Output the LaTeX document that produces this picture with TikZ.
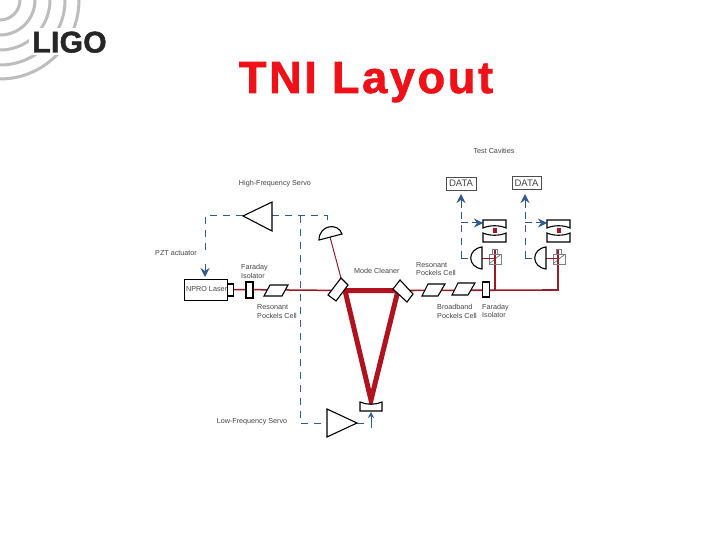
\documentclass[tikz,border=0pt]{standalone}
\usepackage{fontspec}
\setmainfont{Liberation Sans}
\usetikzlibrary{arrows.meta,calc}
\definecolor{beam}{HTML}{B0121F}
\definecolor{thin}{HTML}{9A1B28}
\definecolor{servo}{HTML}{2F5A94}
\definecolor{txt}{HTML}{444444}
\definecolor{arcg}{HTML}{BDBDBD}
\definecolor{titlered}{HTML}{F01018}
\tikzset{
  lab/.style={font=\fontsize{7.2}{8.6}\selectfont,text=txt,inner sep=0pt,align=left},
  part/.style={draw=black,line width=1.1pt,fill=white},
  boxn/.style={draw=black,line width=1.1pt,fill=white,inner sep=0pt},
  thinb/.style={draw=thin,line width=1.5pt},
  fineb/.style={draw=thin,line width=1pt},
  ring/.style={draw=beam,line width=5pt,line join=miter},
  sig/.style={draw=servo,line width=1pt,dash pattern=on 7pt off 6pt},
  sigend/.style={draw=servo,line width=1pt,-{Stealth[length=9pt,width=9pt,inset=3pt]}},
  arc1/.style={draw=arcg,line width=3pt}
}
\begin{document}
\begin{tikzpicture}[x=1pt,y=-1pt]
\useasboundingbox (0,0) rectangle (720,540);
\fill[white] (0,0) rectangle (720,540);
% logo
\foreach \r in {20,35,50,65,79} {\draw[arc1] (\r,0) arc[start angle=0,end angle=90,radius=\r pt,y radius=-\r pt];}
\fill[white] (29,28) rectangle (110,55);
\node[font=\bfseries\fontsize{30}{30}\selectfont,inner sep=0pt,text=black!85,anchor=base] (logo) at (69.5,52.5) {\addfontfeature{FakeBold=1.5,LetterSpace=1}LIGO};
\node[font=\bfseries\fontsize{45}{45}\selectfont,text=titlered,inner sep=0pt,anchor=base] (title) at (366,93) {\addfontfeature{FakeBold=1.5,LetterSpace=6}TNI Layout};
% coordinates
\coordinate (hfapex) at (243,216);\coordinate (hfb1) at (272,202);\coordinate (hfb2) at (272,231);\coordinate (hfbm) at (272,216);
\coordinate (lfapex) at (357,423);\coordinate (lfb1) at (327,409);\coordinate (lfb2) at (327,437);\coordinate (lfbm) at (327,423);
\coordinate (m1) at (345,290.5);\coordinate (m2) at (398,290.5);\coordinate (m3) at (371,400);
% beams
\draw[thinb] (233,289.5) -- (m1);
\draw[ring] (m1) -- (m2) -- (m3) -- cycle;
\draw[thinb,line width=1.6pt] (m2) -- (558,290) -- (558,250);
\draw[thinb,line width=1.6pt] (495,290) -- (495,250);
\draw[fineb] (330,237) -- (341,278);
% servo lines
\draw[sig] (hfbm) -- (327,216) -- (327,226);
\draw[sig] (300,216) -- (300,423) -- (lfbm);
\draw[sig] (hfapex) -- (205,216) -- (205,252);
\draw[sigend] (205,264) -- (205,277);
\draw[sig] (lfapex) -- (364,423);
\draw[servo,line width=1pt,-{Stealth[length=6pt,width=6pt]}] (371,428) -- (371,412);
% amps
\draw[part] (hfapex) -- (hfb1) -- (hfb2) -- cycle;
\draw[part] (lfapex) -- (lfb1) -- (lfb2) -- cycle;
% laser
\node[boxn,minimum width=43pt,minimum height=21pt,anchor=north west] (npro) at (184,279) {};
\node[lab,anchor=west] (nprol) at (186,289.5) {NPRO Laser};
\node[boxn,minimum width=6pt,minimum height=12pt,anchor=west] (head) at (227,290) {};
\node[boxn,minimum width=7pt,minimum height=16pt] (fi1) at (249.5,290) {};
\draw[part] (264,296) -- (270,285) -- (288,285) -- (282,296) -- cycle;
\draw[part] (328,295) -- (341,278) -- (348,285) -- (336,301) -- cycle;
\draw[part] (393,289) -- (400,280) -- (413,294) -- (407,302) -- cycle;
\draw[part] (422,296) -- (428,284) -- (445,284) -- (438,296) -- cycle;
\draw[part] (452,295) -- (458,283) -- (475,283) -- (468,295) -- cycle;
\node[boxn,minimum width=7.5pt,minimum height=15pt] (fi2) at (486,289.5) {};
% curved mirrors and diode
\draw[part] (360,402) .. controls (367,405) and (375,405) .. (382,402) -- (382,411) -- (360,411) -- cycle;
\draw[part] (319,240) .. controls (319,225) and (338,222) .. (342,234) -- cycle;
\foreach \dx/\nm in {0/a,64/b} {
  \begin{scope}[xshift=\dx pt]
  \draw[sig] (461,258) -- (461,206);
  \draw[sigend] (461,208) -- (461,194);
  \draw[sig] (461,258) -- (472,258);
  \draw[sig] (461,223) -- (474,223);
  \draw[sigend] (472,223) -- (483,223);
  \draw[part] (483,220) -- (506,220) -- (506,228) .. controls (500,225) and (489,225) .. (483,228) -- cycle;
  \draw[part] (483,233) .. controls (489,236) and (500,236) .. (506,233) -- (506,242) -- (483,242) -- cycle;
  \fill[beam] (492.7,228) rectangle (497.3,232.6);
  \draw[draw=gray,line width=0.8pt] (489,254) rectangle (501,264);
  \draw[draw=gray,line width=0.8pt] (492.5,249.5) rectangle (497.5,254);
  \draw[draw=black!70,line width=0.5pt] (489.5,263.5) -- (500.5,254.5);
  \draw[fineb] (482,258) -- (495,258);
  \draw[part] (482,247) .. controls (467,249) and (467,267) .. (482,269) -- cycle;
  \end{scope}
}
\node[draw=black!70,line width=0.8pt,minimum width=30pt,minimum height=13pt,inner sep=0pt,font=\fontsize{9.5}{9.5}\selectfont,text=txt] (data1) at (461,183.5) {DATA};
\node[draw=black!70,line width=0.8pt,minimum width=29pt,minimum height=13pt,inner sep=0pt,font=\fontsize{9.5}{9.5}\selectfont,text=txt] (data2) at (526.5,183) {DATA};
% labels
\node[lab] (l1) at (275,184) {High-Frequency Servo};
\node[lab,anchor=west] (l2) at (155,253.5) {PZT actuator};
\node[lab,anchor=west] (l3) at (241,271.5) {Faraday\\Isolator};
\node[lab,anchor=west] (l4) at (257,311.5) {Resonant\\Pockels Cell};
\node[lab,anchor=west] (l5) at (354,271) {Mode Cleaner};
\node[lab,anchor=west] (l6) at (416,269) {Resonant\\Pockels Cell};
\node[lab,anchor=west] (l7) at (437,311.5) {Broadband\\Pockels Cell};
\node[lab,anchor=west] (l8) at (482,311) {Faraday\\Isolator};
\node[lab] (l9) at (494,150.5) {Test Cavities};
\node[lab] (l10) at (252,421.5) {Low-Frequency Servo};
\end{tikzpicture}
\end{document}
